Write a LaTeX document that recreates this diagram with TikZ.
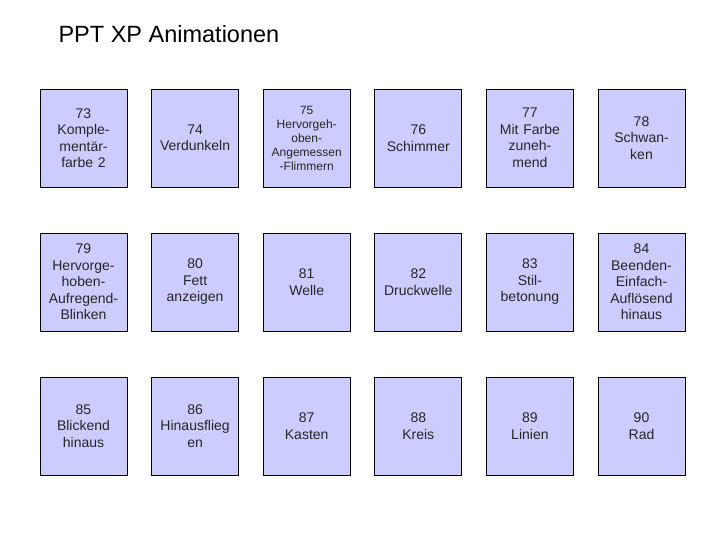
\documentclass[tikz,border=0pt]{standalone}
\usepackage{fontspec}
\setmainfont{Liberation Sans}
\definecolor{boxfill}{RGB}{204,204,255}
\begin{document}
\begin{tikzpicture}[x=1pt,y=-1pt,
  cell/.style={draw=black, line width=0.9pt, fill=boxfill, minimum width=87pt, minimum height=98pt,
    inner sep=1pt, align=center, text width=85pt, font=\fontsize{14}{16.5}\selectfont, text=black!85},
  smallcell/.style={cell, font=\fontsize{12}{14}\selectfont}]
\useasboundingbox (0,0) rectangle (720,540);
\node[anchor=base west, font=\fontsize{23.5}{28}\selectfont] (title) at (55,43) {PPT XP Animationen};
% row 1
\node[cell] (b73) at (83.5,138) {73\\Komple-\\mentär-\\farbe 2};
\node[cell] (b74) at (195.1,138) {74\\Verdunkeln};
\node[smallcell] (b75) at (306.7,138) {75\\Hervorgeh-\\oben-\\Angemessen\\-Flimmern};
\node[cell] (b76) at (418.3,138) {76\\Schimmer};
\node[cell] (b77) at (529.9,138) {77\\Mit Farbe\\zuneh-\\mend};
\node[cell] (b78) at (641.5,138) {78\\Schwan-\\ken};
% row 2
\node[cell] (b79) at (83.5,282) {79\\Hervorge-\\hoben-\\Aufregend-\\Blinken};
\node[cell] (b80) at (195.1,282) {80\\Fett\\anzeigen};
\node[cell] (b81) at (306.7,282) {81\\Welle};
\node[cell] (b82) at (418.3,282) {82\\Druckwelle};
\node[cell] (b83) at (529.9,282) {83\\Stil-\\betonung};
\node[cell] (b84) at (641.5,282) {84\\Beenden-\\Einfach-\\Auflösend\\hinaus};
% row 3
\node[cell] (b85) at (83.5,426) {85\\Blickend\\hinaus};
\node[cell] (b86) at (195.1,426) {86\\Hinausflieg\\en};
\node[cell] (b87) at (306.7,426) {87\\Kasten};
\node[cell] (b88) at (418.3,426) {88\\Kreis};
\node[cell] (b89) at (529.9,426) {89\\Linien};
\node[cell] (b90) at (641.5,426) {90\\Rad};
\end{tikzpicture}
\end{document}
